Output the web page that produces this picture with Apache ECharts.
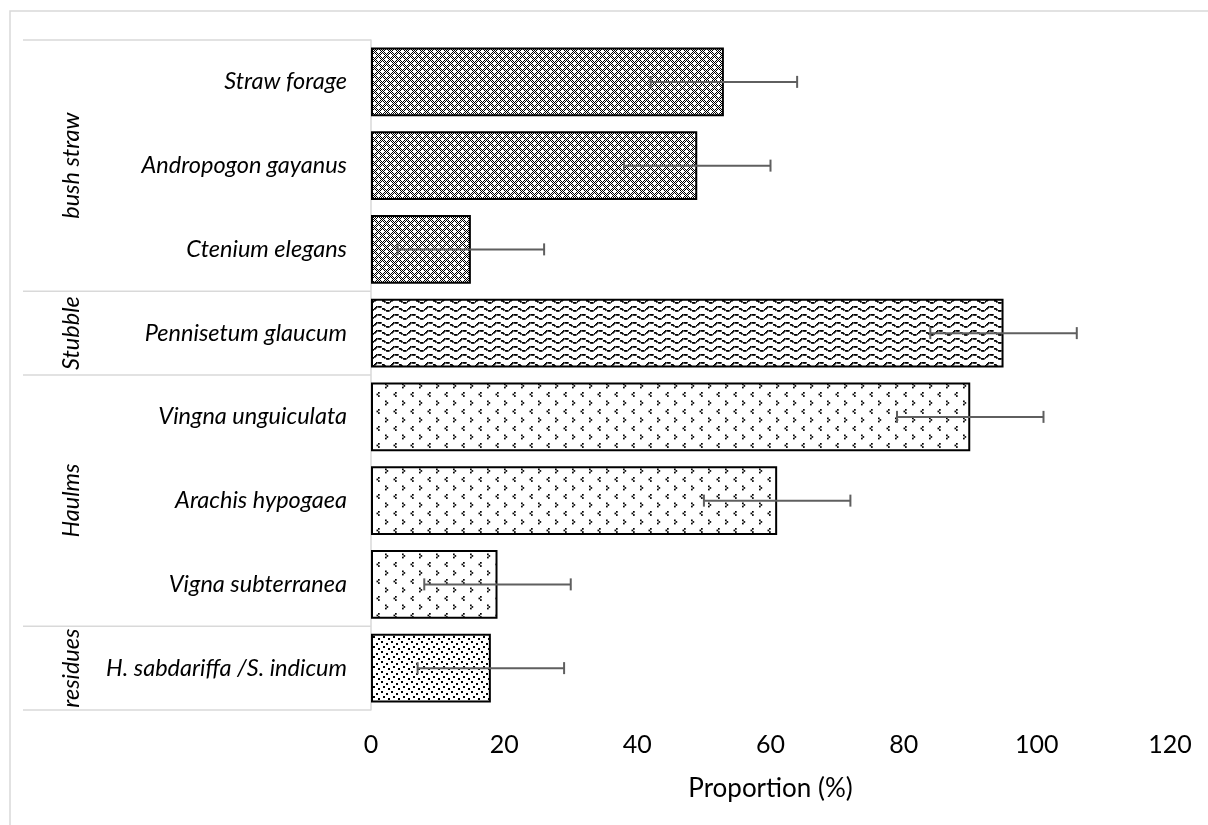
<!DOCTYPE html>
<html>
<head>
<meta charset="utf-8">
<script src="https://cdn.jsdelivr.net/npm/echarts@6/dist/echarts.min.js"></script>
<style>
  html, body { margin: 0; padding: 0; background: #fff; }
  #chart { width: 1208px; height: 825px; }
</style>
</head>
<body>
<div id="chart"></div>
<script>
// data
const categories = ['Straw forage', 'Andropogon gayanus', 'Ctenium elegans', 'Pennisetum glaucum',
  'Vingna unguiculata', 'Arachis hypogaea', 'Vigna subterranea', 'H. sabdariffa /S. indicum']
const proportions = [53, 49, 15, 95, 90, 61, 19, 18]
const errors = [11, 11, 11, 11, 11, 11, 11, 11]
const groupNames = ['bush straw', 'Stubble', 'Haulms', 'residues']
const groupStart = [0, 3, 4, 7]
const groupEnd = [2, 3, 6, 7]
const patternOf = [0, 0, 0, 1, 2, 2, 2, 3]   // which fill each bar uses
const xTicks = [0, 20, 40, 60, 80, 100, 120]

const FONT = 'Lato, "Open Sans", sans-serif'

// --- hatch fills, drawn on small canvases ---
const makeTile = (w, h, draw) => {
  const c = document.createElement('canvas')
  c.width = w
  c.height = h
  const ctx = c.getContext('2d')
  ctx.fillStyle = '#fff'
  ctx.fillRect(0, 0, w, h)
  ctx.fillStyle = '#000'
  draw(ctx)
  return { image: c, repeat: 'repeat' }
}

const patterns = [
  // dotted diamond: checker with white crosses
  makeTile(8, 8, ctx => {
    for (let y = 0; y < 8; y++) {
      for (let x = 0; x < 8; x++) {
        if ((x + y) % 2 === 0) ctx.fillRect(x, y, 1, 1)
      }
    }
    ctx.fillStyle = '#fff'
    ctx.fillRect(1, 3, 3, 1); ctx.fillRect(2, 2, 1, 3)
    ctx.fillRect(5, 7, 3, 1); ctx.fillRect(6, 6, 1, 2); ctx.fillRect(6, 0, 1, 1)
  }),
  // wave
  makeTile(17, 8, ctx => {
    for (let x = 0; x < 17; x++) {
      if (x % 4 === 3) continue
      const y = Math.round(4 - 2.4 * Math.sin(2 * Math.PI * x / 17))
      ctx.fillRect(x, y, 1.7, 1.7)
    }
  }),
  // divots
  makeTile(17, 17, ctx => {
    ctx.fillRect(4, 1, 1.7, 1.7); ctx.fillRect(2.5, 2.6, 1.7, 1.7); ctx.fillRect(4, 4.2, 1.7, 1.7)
    ctx.fillRect(11, 9.5, 1.7, 1.7); ctx.fillRect(12.5, 11.1, 1.7, 1.7); ctx.fillRect(11, 12.7, 1.7, 1.7)
  }),
  // sparse dots
  makeTile(10, 10, ctx => {
    ctx.fillRect(1, 1, 2, 2); ctx.fillRect(6, 3, 2, 2); ctx.fillRect(3, 6, 2, 2); ctx.fillRect(8, 8, 2, 2)
  })
]

const chart = echarts.init(document.getElementById('chart'))

chart.setOption({
  animation: false,
  graphic: [{
    type: 'rect',
    shape: { x: 10, y: 11, width: 1230, height: 840 },
    style: { fill: 'none', stroke: '#d9d9d9', lineWidth: 1.5 },
    silent: true
  }],
  grid: { left: 371, right: 38, top: 40, bottom: 115 },
  xAxis: {
    type: 'value',
    min: 0,
    max: 120,
    interval: 20,
    name: 'Proportion (%)',
    nameLocation: 'middle',
    nameGap: 66,
    nameTextStyle: { color: '#000', fontSize: 26, fontFamily: FONT },
    axisLine: { show: false },
    axisTick: { show: false },
    splitLine: { show: false },
    axisLabel: {
      color: '#000', fontSize: 25, fontFamily: FONT, margin: 22,
      formatter: v => xTicks.includes(v) ? String(v) : ''
    }
  },
  yAxis: {
    type: 'category',
    inverse: true,
    data: categories,
    axisLine: { lineStyle: { color: '#d9d9d9', width: 1.5 } },
    axisTick: { show: false },
    axisLabel: { color: '#000', fontSize: 23.5, fontStyle: 'italic', fontFamily: FONT, margin: 24 }
  },
  series: [
    {
      type: 'bar',
      barCategoryGap: '18%',
      data: proportions.map((v, i) => ({
        value: v,
        itemStyle: { color: patterns[patternOf[i]], borderColor: '#000', borderWidth: 2 }
      }))
    },
    {
      // error bars
      type: 'custom',
      encode: { x: 1, y: 0 },
      data: proportions.map((v, i) => [i, v, errors[i]]),
      z: 5,
      renderItem: (params, api) => {
        const idx = api.value(0)
        const v = api.value(1)
        const e = api.value(2)
        const lo = api.coord([v - e, idx])
        const hi = api.coord([v + e, idx])
        const cap = 6
        const st = { stroke: '#5f5f5f', lineWidth: 2 }
        return {
          type: 'group',
          children: [
            { type: 'line', shape: { x1: lo[0], y1: lo[1], x2: hi[0], y2: hi[1] }, style: st },
            { type: 'line', shape: { x1: lo[0], y1: lo[1] - cap, x2: lo[0], y2: lo[1] + cap }, style: st },
            { type: 'line', shape: { x1: hi[0], y1: hi[1] - cap, x2: hi[0], y2: hi[1] + cap }, style: st }
          ]
        }
      }
    },
    {
      // group label column on the left
      type: 'custom',
      encode: { x: 1, y: 0 },
      data: groupStart.map((s, i) => [s, 0, groupEnd[i]]),
      silent: true,
      renderItem: (params, api) => {
        const s = api.value(0)
        const e = api.value(2)
        const band = api.size([0, 1])[1]
        const left = params.coordSys.x
        const yTop = api.coord([0, s])[1] - band / 2
        const yBot = api.coord([0, e])[1] + band / 2
        const lineSt = { stroke: '#d9d9d9', lineWidth: 1.5 }
        const kids = [
          { type: 'line', shape: { x1: left - 348, y1: yTop, x2: left, y2: yTop }, style: lineSt },
          {
            type: 'text',
            x: left - 300,
            y: (yTop + yBot) / 2,
            rotation: Math.PI / 2,
            style: {
              text: groupNames[params.dataIndex],
              font: 'italic 23.5px ' + FONT,
              fill: '#000',
              align: 'center',
              verticalAlign: 'middle'
            }
          }
        ]
        if (params.dataIndex === groupNames.length - 1) {
          kids.push({ type: 'line', shape: { x1: left - 348, y1: yBot, x2: left, y2: yBot }, style: lineSt })
        }
        return { type: 'group', children: kids }
      }
    }
  ]
})
</script>
</body>
</html>
